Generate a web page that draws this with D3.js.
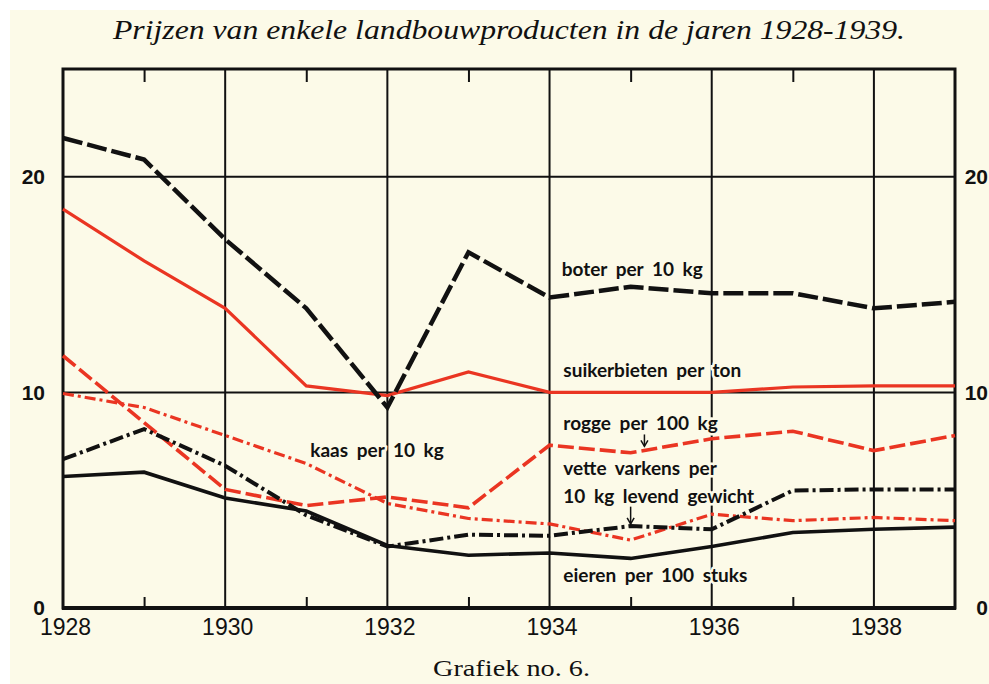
<!DOCTYPE html>
<meta charset="utf-8">
<title>Prijzen van enkele landbouwproducten in de jaren 1928-1939</title>
<script src="https://d3js.org/d3.v7.min.js"></script>

<style>
  body {
    margin: 0;
    background-color: #ffffff;
  }

  svg {
    display: block;
  }

  .title {
    font: italic 27px "Liberation Serif", serif;
    fill: #111;
  }

  .caption {
    font: 23px "Liberation Serif", serif;
    fill: #111;
  }

  .yr text {
    font: 23px "Liberation Sans Narrow", "Liberation Sans", sans-serif;
    fill: #111;
  }

  .val text {
    font: bold 21px "Liberation Sans Narrow", "Liberation Sans", sans-serif;
    fill: #111;
  }

  .label {
    font: bold 19px Lato, "Noto Sans", sans-serif;
    word-spacing: 4px;
    fill: #111;
    stroke: #fcfae8;
    stroke-width: 5px;
    paint-order: stroke;
  }
</style>

<body>
  <svg width="989" height="684"></svg>
</body>

<script>
  // years on the x axis
  var years = [1928, 1929, 1930, 1931, 1932, 1933, 1934, 1935, 1936, 1937, 1938, 1939];
  var labelYears = [1928, 1930, 1932, 1934, 1936, 1938];
  var minorYears = [1929, 1931, 1933, 1935, 1937];
  var valueTicks = [0, 10, 20];

  // prices
  var boter = [21.8, 20.8, 17.1, 13.9, 9.3, 16.5, 14.4, 14.9, 14.6, 14.6, 13.9, 14.2];
  var suikerbieten = [18.5, 16.1, 13.9, 10.3, 9.85, 10.95, 10.0, 10.0, 10.0, 10.25, 10.3, 10.3];
  var rogge = [11.7, 8.6, 5.5, 4.75, 5.15, 4.65, 7.55, 7.2, 7.85, 8.2, 7.3, 8.0];
  var kaas = [9.95, 9.3, 8.0, 6.7, 4.85, 4.15, 3.9, 3.15, 4.35, 4.05, 4.2, 4.05];
  var varkens = [6.9, 8.3, 6.6, 4.3, 2.85, 3.4, 3.35, 3.8, 3.65, 5.45, 5.5, 5.5];
  var eieren = [6.1, 6.3, 5.1, 4.5, 2.9, 2.45, 2.55, 2.3, 2.85, 3.5, 3.65, 3.75];

  var red = "#ea3522",
    ink = "#111";

  var series = [
    { values: suikerbieten, color: red, width: 3.2, dash: null },
    { values: kaas, color: red, width: 3.2, dash: "11,4,3,4" },
    { values: rogge, color: red, width: 3.6, dash: "16,5" },
    { values: eieren, color: ink, width: 3.6, dash: null },
    { values: varkens, color: ink, width: 4, dash: "14,4,3,4" },
    { values: boter, color: ink, width: 4.5, dash: "20,5" }
  ];

  var svg = d3.select("svg");

  // paper
  svg.append("rect").attr("width", 989).attr("height", 684).attr("fill", "#ffffff");
  svg.append("rect").attr("x", 10).attr("y", 10).attr("width", 979).attr("height", 674).attr("fill", "#fcfae8");

  var x = d3.scaleLinear().domain([1928, 1939]).range([63, 955]);
  var y = d3.scaleLinear().domain([0, 25]).range([608, 69]);

  // grid
  svg.append("g").selectAll("line")
    .data(labelYears.slice(1))
    .enter().append("line")
    .attr("x1", function (d) { return x(d); })
    .attr("x2", function (d) { return x(d); })
    .attr("y1", y(25))
    .attr("y2", y(0))
    .attr("stroke", ink)
    .attr("stroke-width", 2);

  svg.append("g").selectAll("line")
    .data(valueTicks.slice(1))
    .enter().append("line")
    .attr("x1", x(1928))
    .attr("x2", x(1939))
    .attr("y1", function (d) { return y(d); })
    .attr("y2", function (d) { return y(d); })
    .attr("stroke", ink)
    .attr("stroke-width", 2);

  // frame
  svg.append("rect")
    .attr("x", x(1928))
    .attr("y", y(25))
    .attr("width", x(1939) - x(1928))
    .attr("height", y(0) - y(25))
    .attr("fill", "none")
    .attr("stroke", ink)
    .attr("stroke-width", 3);

  svg.append("line")
    .attr("x1", x(1928) - 1).attr("x2", x(1939) + 1)
    .attr("y1", y(0)).attr("y2", y(0))
    .attr("stroke", ink).attr("stroke-width", 4);

  // small ticks for odd years, top and bottom
  var tickB = svg.append("g")
    .attr("transform", "translate(0," + y(0) + ")")
    .call(d3.axisBottom(x).tickValues(minorYears).tickSize(-11).tickFormat(""));
  var tickT = svg.append("g")
    .attr("transform", "translate(0," + y(25) + ")")
    .call(d3.axisTop(x).tickValues(minorYears).tickSize(-13).tickFormat(""));
  [tickB, tickT].forEach(function (g) {
    g.select(".domain").remove();
    g.selectAll("line").attr("stroke", ink).attr("stroke-width", 2);
  });

  // year labels
  var xAxis = svg.append("g")
    .attr("class", "yr")
    .attr("transform", "translate(0," + y(0) + ")")
    .call(d3.axisBottom(x).tickValues(labelYears).tickSize(0).tickPadding(11).tickFormat(d3.format("d")));
  xAxis.select(".domain").remove();
  xAxis.selectAll(".tick text").attr("dx", 2);

  // value labels, left and right
  var yLeft = svg.append("g")
    .attr("class", "val")
    .attr("transform", "translate(" + x(1928) + ",0)")
    .call(d3.axisLeft(y).tickValues(valueTicks).tickSize(0).tickPadding(18));
  var yRight = svg.append("g")
    .attr("class", "val")
    .attr("transform", "translate(" + x(1939) + ",0)")
    .call(d3.axisRight(y).tickValues(valueTicks).tickSize(0));
  yRight.selectAll(".tick text").attr("x", 33).attr("text-anchor", "end");
  [yLeft, yRight].forEach(function (g) { g.select(".domain").remove(); });

  // price lines
  var line = d3.line()
    .x(function (d, i) { return x(years[i]); })
    .y(function (d) { return y(d); });

  svg.append("g").selectAll("path")
    .data(series)
    .enter().append("path")
    .attr("d", function (d) { return line(d.values); })
    .attr("fill", "none")
    .attr("stroke", function (d) { return d.color; })
    .attr("stroke-width", function (d) { return d.width; })
    .attr("stroke-dasharray", function (d) { return d.dash; })
    .attr("stroke-linejoin", "miter");

  // line names
  var labels = [
    { text: "boter per 10 kg", year: 1934.15, value: 15.4 },
    { text: "suikerbieten per ton", year: 1934.17, value: 10.72 },
    { text: "rogge per 100 kg", year: 1934.17, value: 8.25 },
    { text: "vette varkens per", year: 1934.17, value: 6.18 },
    { text: "10 kg levend gewicht", year: 1934.17, value: 4.88 },
    { text: "eieren per 100 stuks", year: 1934.17, value: 1.21 },
    { text: "kaas per 10 kg", year: 1931.05, value: 7.0 }
  ];

  svg.append("g").selectAll("text")
    .data(labels)
    .enter().append("text")
    .attr("class", "label")
    .attr("x", function (d) { return x(d.year); })
    .attr("y", function (d) { return y(d.value); })
    .text(function (d) { return d.text; });

  // little arrows from a label to its line
  var arrows = [
    { year: 1935.17, from: 8.05, to: 7.5 },
    { year: 1935.0, from: 4.7, to: 3.9 }
  ];
  var ag = svg.append("g").selectAll("g")
    .data(arrows)
    .enter().append("g");
  ag.append("line")
    .attr("x1", function (d) { return x(d.year); })
    .attr("x2", function (d) { return x(d.year); })
    .attr("y1", function (d) { return y(d.from); })
    .attr("y2", function (d) { return y(d.to); })
    .attr("stroke", ink)
    .attr("stroke-width", 1.5);
  ag.append("path")
    .attr("d", function (d) {
      var px = x(d.year), py = y(d.to);
      return "M" + (px - 3.5) + "," + (py - 6) + "L" + px + "," + py + "L" + (px + 3.5) + "," + (py - 6);
    })
    .attr("fill", "none")
    .attr("stroke", ink)
    .attr("stroke-width", 1.5);

  // title and caption
  svg.append("text")
    .attr("class", "title")
    .attr("x", 113)
    .attr("y", 39)
    .attr("textLength", 792)
    .attr("lengthAdjust", "spacingAndGlyphs")
    .text("Prijzen van enkele landbouwproducten in de jaren 1928-1939.");

  svg.append("text")
    .attr("class", "caption")
    .attr("x", 433)
    .attr("y", 676)
    .attr("textLength", 157)
    .attr("lengthAdjust", "spacingAndGlyphs")
    .text("Grafiek no. 6.");
</script>
